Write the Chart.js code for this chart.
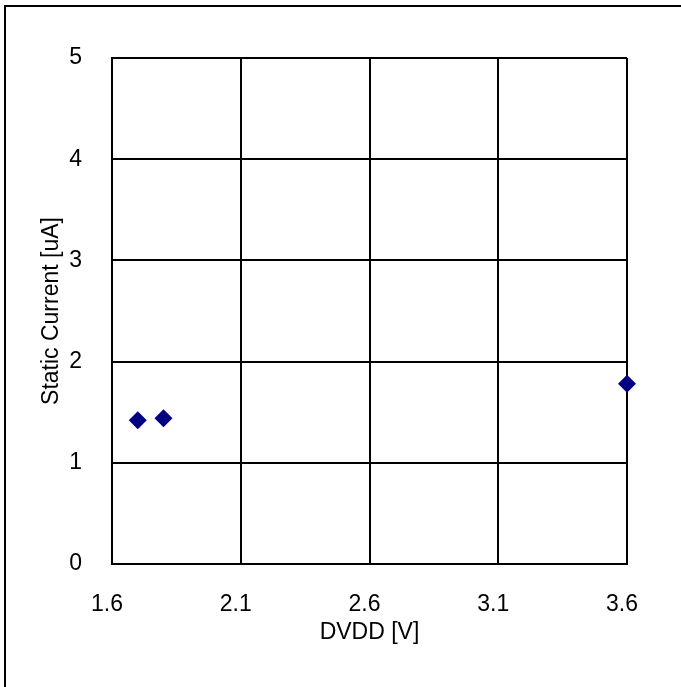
<!DOCTYPE html>
<html>
<head>
<meta charset="utf-8">
<script src="https://cdn.jsdelivr.net/npm/chart.js@4"></script>
<style>
  body { margin: 0; background: #fff; }
  #wrap { width: 681px; height: 687px; }
</style>
</head>
<body>
<div id="wrap"><canvas id="chart"></canvas></div>
<script>
var dvdd = [1.7, 1.8, 3.6];
var staticCurrent = [1.42, 1.44, 1.78];
var xTicks = [1.6, 2.1, 2.6, 3.1, 3.6];
var yTicks = [0, 1, 2, 3, 4, 5];

var FONT = 'Liberation Sans, Arial, sans-serif';

// outer frame, only top and left edges show in the picture
var framePlugin = {
    id: 'frame',
    beforeDraw: function(chart) {
        var ctx = chart.ctx;
        ctx.save();
        ctx.fillStyle = '#fff';
        ctx.fillRect(0, 0, chart.width, chart.height);
        ctx.strokeStyle = '#000';
        ctx.lineWidth = 2;
        ctx.strokeRect(5, 6, 2000, 2000);
        ctx.restore();
    }
};

function toPoints(xs, ys)
{
    var pts = [];
    for (var i = 0; i < xs.length; i++)
        pts.push({x: xs[i], y: ys[i]});
    return pts;
}

function setTicks(values)
{
    return function(scale) {
        scale.ticks = values.map(function(v) { return {value: v}; });
    };
}

new Chart(document.getElementById('chart'), {
    type: 'scatter',
    data: {
        datasets: [{
            data: toPoints(dvdd, staticCurrent),
            pointStyle: 'rectRot',
            pointRadius: 9,
            pointHoverRadius: 9,
            backgroundColor: '#000080',
            borderColor: '#000080',
            borderWidth: 0,
            clip: false
        }]
    },
    options: {
        responsive: true,
        maintainAspectRatio: false,
        animation: false,
        layout: { padding: { top: 58, right: 54, left: 0, bottom: 33 } },
        plugins: {
            legend: { display: false },
            tooltip: { enabled: false }
        },
        scales: {
            x: {
                type: 'linear',
                min: 1.6,
                max: 3.6,
                afterBuildTicks: setTicks(xTicks),
                afterFit: function(s) { s.height = 90; },
                grid: { color: '#000', lineWidth: 2, drawTicks: false },
                border: { color: '#000', width: 2 },
                ticks: {
                    padding: 27,
                    labelOffset: -5,
                    color: '#000',
                    font: { family: FONT, size: 23 },
                    callback: function(v) { return Number(v).toFixed(1); }
                },
                title: {
                    display: true,
                    text: 'DVDD [V]',
                    color: '#000',
                    font: { family: FONT, size: 23 },
                    padding: { top: 0, bottom: 8 }
                }
            },
            y: {
                type: 'linear',
                min: 0,
                max: 5,
                afterBuildTicks: setTicks(yTicks),
                afterFit: function(s) { s.width = 112; },
                grid: { color: '#000', lineWidth: 2, drawTicks: false },
                border: { color: '#000', width: 2 },
                ticks: {
                    padding: 30,
                    color: '#000',
                    font: { family: FONT, size: 23 }
                },
                title: {
                    display: true,
                    text: 'Static Current [uA]',
                    color: '#000',
                    font: { family: FONT, size: 23 },
                    padding: { top: 38, bottom: 0 }
                }
            }
        }
    },
    plugins: [framePlugin]
});
</script>
</body>
</html>
